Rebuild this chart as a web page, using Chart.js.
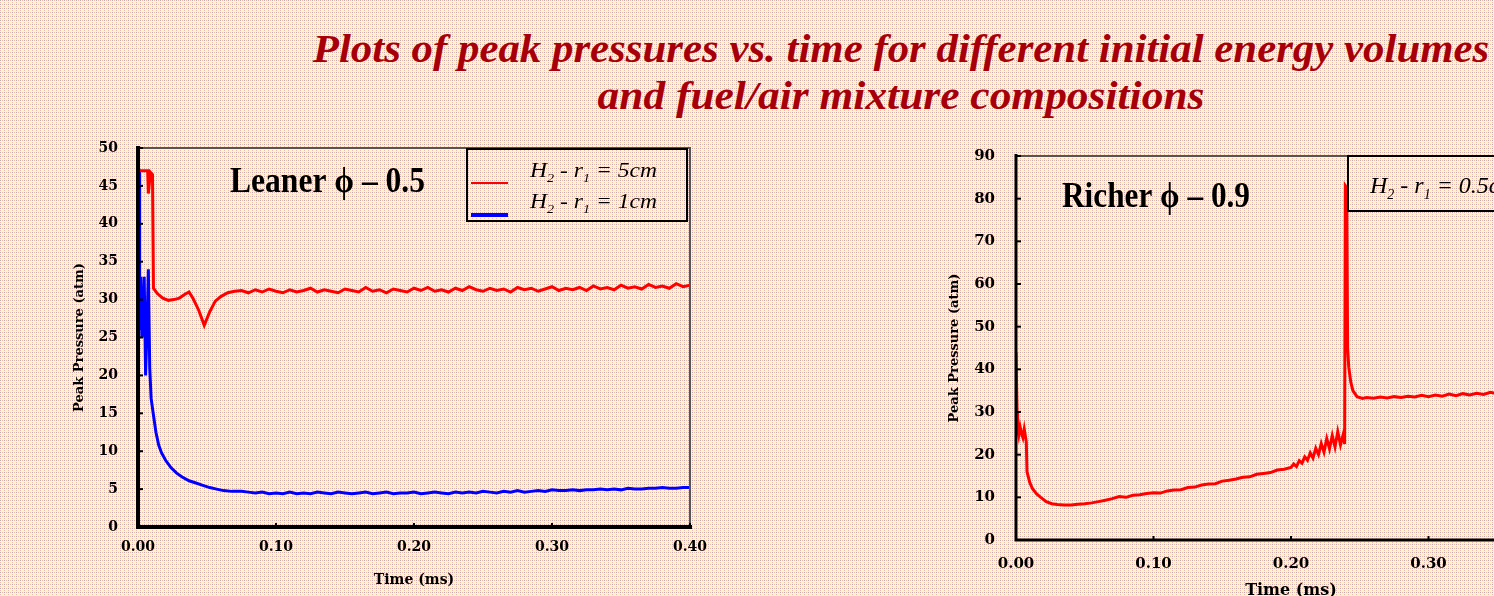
<!DOCTYPE html>
<html>
<head>
<meta charset="utf-8">
<script src="https://cdn.jsdelivr.net/npm/chart.js@4.4.1/dist/chart.umd.min.js"></script>
<style>
  html, body { margin: 0; padding: 0; }
  body { width: 1494px; height: 596px; overflow: hidden; position: relative; background: #f9ebbd; }
  .head { position: absolute; left: 901px; white-space: nowrap; font: italic bold 41px "Liberation Serif", serif;
          color: #a8000a; line-height: 41px; transform-origin: center top; }
  canvas { position: absolute; }
  #lean { left: 0; top: 130px; }
  #rich { left: 900px; top: 140px; }
</style>
</head>
<body>
<div class="head" id="head1" style="top:28px">Plots of peak pressures vs. time for different initial energy volumes</div>
<div class="head" id="head2" style="top:75px">and fuel/air mixture compositions</div>
<canvas id="lean" width="740" height="466"></canvas>
<canvas id="rich" width="760" height="466"></canvas>
<script>
// ---- data: time in ms, peak pressure in atm ----
const timeTicks = [0, 0.1, 0.2, 0.3, 0.4];
const leanTicks = [0, 5, 10, 15, 20, 25, 30, 35, 40, 45, 50];
const richTicks = [0, 10, 20, 30, 40, 50, 60, 70, 80, 90];

// lean mixture, r = 5cm (start-up transient)
const leanRedHeadT = [0, 0.007, 0.0075, 0.009, 0.0105, 0.0112, 0.014, 0.018, 0.022, 0.026, 0.030,
  0.034, 0.037, 0.040, 0.044, 0.048, 0.052, 0.056, 0.060, 0.065, 0.070];
const leanRedHeadP = [47, 47, 44, 46.8, 46.5, 31.5, 30.8, 30.2, 29.9, 30.0, 30.2,
  30.7, 31.0, 30.1, 28.6, 26.6, 28.4, 29.8, 30.4, 30.9, 31.1];

// lean mixture, r = 1cm (start-up transient)
const leanBlueHeadT = [0, 0.0008, 0.0012, 0.002, 0.0028, 0.0035, 0.0045, 0.0055, 0.0065, 0.0075,
  0.0085, 0.0095, 0.011, 0.013, 0.015, 0.017, 0.020, 0.024, 0.028, 0.032,
  0.037, 0.042, 0.047, 0.052, 0.057, 0.062, 0.068];
const leanBlueHeadP = [47, 47, 26, 33, 25, 26, 33, 20, 26, 34,
  21, 17, 15, 12.5, 10.8, 9.8, 8.8, 7.8, 7.1, 6.6,
  6.1, 5.8, 5.5, 5.2, 5.0, 4.8, 4.7];

// lean mixture, settled part shared by both radii
const leanTailT = [0.075, 0.080, 0.085, 0.090, 0.095, 0.100, 0.105, 0.110, 0.115, 0.120,
  0.125, 0.130, 0.135, 0.140, 0.145, 0.150, 0.155, 0.160, 0.165, 0.170,
  0.175, 0.180, 0.185, 0.190, 0.195, 0.200, 0.205, 0.210, 0.215, 0.220,
  0.225, 0.230, 0.235, 0.240, 0.245, 0.250, 0.255, 0.260, 0.265, 0.270,
  0.275, 0.280, 0.285, 0.290, 0.295, 0.300, 0.305, 0.310, 0.315, 0.320,
  0.325, 0.330, 0.335, 0.340, 0.345, 0.350, 0.355, 0.360, 0.365, 0.370,
  0.375, 0.380, 0.385, 0.390, 0.395, 0.400];
const leanRedTailP = [31.2, 30.9, 31.3, 31.0, 31.4, 31.1, 30.9, 31.3, 31.0, 31.2,
  31.5, 31.0, 31.3, 31.1, 30.9, 31.4, 31.2, 31.0, 31.6, 31.1,
  31.3, 30.9, 31.4, 31.2, 31.0, 31.5, 31.2, 31.6, 31.1, 31.3,
  31.0, 31.5, 31.2, 31.7, 31.3, 31.1, 31.5, 31.2, 31.4, 31.0,
  31.6, 31.3, 31.5, 31.1, 31.4, 31.7, 31.2, 31.5, 31.3, 31.6,
  31.2, 31.8, 31.4, 31.6, 31.3, 31.9, 31.5, 31.7, 31.4, 32.0,
  31.6, 31.8, 31.5, 32.1, 31.7, 31.9];
const leanBlueTailP = [4.7, 4.6, 4.5, 4.6, 4.4, 4.5, 4.4, 4.6, 4.4, 4.5,
  4.4, 4.6, 4.5, 4.4, 4.6, 4.5, 4.4, 4.5, 4.6, 4.4,
  4.5, 4.6, 4.4, 4.5, 4.5, 4.6, 4.4, 4.5, 4.6, 4.5,
  4.4, 4.6, 4.5, 4.6, 4.5, 4.7, 4.6, 4.5, 4.7, 4.6,
  4.8, 4.6, 4.7, 4.8, 4.7, 4.9, 4.8, 4.8, 4.9, 4.8,
  4.9, 4.9, 5.0, 4.9, 5.0, 4.9, 5.1, 5.0, 5.0, 5.1,
  5.1, 5.2, 5.1, 5.1, 5.2, 5.2];

// rich mixture, r = 0.5cm
const richT = [0, 0.0008, 0.0012, 0.002, 0.003, 0.004, 0.005, 0.006, 0.0075, 0.008,
  0.010, 0.012, 0.015, 0.018, 0.022, 0.026, 0.030, 0.035, 0.040, 0.045,
  0.050, 0.055, 0.060, 0.065, 0.070,
  0.075, 0.080, 0.085, 0.090, 0.095, 0.100, 0.105, 0.110, 0.115, 0.120,
  0.125, 0.130, 0.135, 0.140, 0.145, 0.150, 0.155, 0.160, 0.165, 0.170,
  0.175, 0.180, 0.185, 0.190, 0.195, 0.200,
  0.202, 0.204, 0.206, 0.208, 0.210, 0.212, 0.214, 0.216, 0.218, 0.220,
  0.222, 0.224, 0.226, 0.228, 0.230, 0.232, 0.234, 0.236, 0.238,
  0.2390, 0.2395, 0.2405, 0.2412, 0.2420, 0.2435, 0.2450, 0.2480, 0.2520,
  0.255, 0.260, 0.265, 0.270, 0.275, 0.280, 0.285, 0.290, 0.295, 0.300,
  0.305, 0.310, 0.315, 0.320, 0.325, 0.330, 0.335, 0.340, 0.345, 0.350,
  0.355, 0.360, 0.365, 0.370, 0.375, 0.380, 0.385, 0.390, 0.395, 0.400];
const richP = [44, 30, 26, 24.5, 26.5, 25, 24, 26, 23, 16,
  13.5, 12, 10.8, 10.0, 9.0, 8.5, 8.3, 8.2, 8.2, 8.4,
  8.5, 8.7, 9.0, 9.3, 9.7,
  10.2, 10.0, 10.5, 10.6, 10.9, 11.1, 11.0, 11.5, 11.7, 11.8,
  12.3, 12.4, 12.9, 13.1, 13.2, 13.8, 14.0, 14.3, 14.7, 14.8,
  15.4, 15.6, 15.8, 16.4, 16.6, 17.0,
  17.8, 17.2, 18.6, 18.0, 19.5, 18.7, 20.4, 19.2, 21.5, 20.0,
  22.6, 20.6, 23.8, 21.4, 24.5, 21.8, 25.4, 22.3, 24.8,
  22.5, 83, 82.5, 45, 40.5, 37, 35, 33.6, 33.2,
  33.4, 33.2, 33.5, 33.3, 33.6, 33.4, 33.7, 33.5, 33.9, 33.6,
  34.0, 33.7, 34.2, 33.8, 34.3, 34.0, 34.4, 34.1, 34.6, 34.3,
  34.7, 34.4, 34.8, 34.5, 34.9, 34.6, 35.0, 34.7, 35.1, 34.8];

const pts = (t, p) => t.map((x, i) => ({ x, y: p[i] }));

// ---- page background: dithered beige ----
const tile = document.createElement('canvas');
tile.width = tile.height = 4;
const tc = tile.getContext('2d');
tc.fillStyle = '#fff8c0'; tc.fillRect(0, 0, 4, 4);
tc.fillStyle = '#b0b0a8'; tc.fillRect(0, 0, 1, 1);
tc.fillStyle = '#f4b4b4'; tc.fillRect(2, 0, 1, 1); tc.fillRect(0, 2, 1, 1);
document.body.style.backgroundImage = 'url(' + tile.toDataURL() + ')';

// stretch the two heading lines to their set widths
function fitHead(id, w) {
  const el = document.getElementById(id);
  el.style.transform = 'translateX(-50%) scaleX(' + (w / el.offsetWidth) + ')';
}
fitHead('head1', 1177);
fitHead('head2', 607);

// text like "H_2 - r_1 = 5cm": "_x" is a subscript
function subText(ctx, s, x, base, size, fitW) {
  const parts = [];
  for (let i = 0; i < s.length; i++) {
    if (s[i] === '_') { parts.push([s[i + 1], 1]); i++; }
    else if (parts.length && parts[parts.length - 1][1] === 0) parts[parts.length - 1][0] += s[i];
    else parts.push([s[i], 0]);
  }
  const font = sub => 'italic ' + (sub ? Math.round(size * 0.6) : size) + 'px "Liberation Serif", serif';
  let w = 0;
  parts.forEach(([t, sub]) => { ctx.font = font(sub); w += ctx.measureText(t).width; });
  ctx.save();
  ctx.translate(x, base);
  if (fitW) ctx.scale(fitW / w, 1);
  let cx = 0;
  parts.forEach(([t, sub]) => {
    ctx.font = font(sub);
    ctx.fillText(t, cx, sub ? size * 0.25 : 0);
    cx += ctx.measureText(t).width;
  });
  ctx.restore();
}

// frame, inner tick marks, plot heading and legend box
const notes = {
  id: 'notes',
  afterDatasetsDraw(chart, args, o) {
    const { ctx, chartArea: a, scales: { x, y } } = chart;
    ctx.save();
    ctx.strokeStyle = '#555';
    ctx.lineWidth = 2;
    ctx.beginPath();
    ctx.moveTo(a.left, a.top); ctx.lineTo(a.right, a.top); ctx.lineTo(a.right, a.bottom);
    ctx.stroke();
    ctx.strokeStyle = '#000';
    ctx.lineWidth = o.axisWidth;
    ctx.beginPath();
    ctx.moveTo(a.left, a.top - 2); ctx.lineTo(a.left, a.bottom); ctx.lineTo(a.right + 2, a.bottom);
    ctx.stroke();
    ctx.lineWidth = 2;
    y.ticks.forEach(t => {
      const py = y.getPixelForValue(t.value);
      ctx.beginPath(); ctx.moveTo(a.left, py); ctx.lineTo(a.left + 5, py); ctx.stroke();
    });
    x.ticks.forEach(t => {
      const px = x.getPixelForValue(t.value);
      ctx.beginPath(); ctx.moveTo(px, a.bottom); ctx.lineTo(px, a.bottom - 4); ctx.stroke();
    });

    // heading inside the plot
    ctx.fillStyle = '#000';
    ctx.font = 'bold 32px "Liberation Serif", serif';
    const hw = ctx.measureText(o.heading).width;
    ctx.save();
    ctx.translate(o.headX, o.headBase);
    ctx.scale(o.headW / hw, 1.15);
    ctx.fillText(o.heading, 0, 0);
    ctx.restore();

    // legend
    const L = o.legend;
    ctx.strokeStyle = '#000';
    ctx.lineWidth = 2;
    ctx.strokeRect(L.box[0], L.box[1], L.box[2] - L.box[0], L.box[3] - L.box[1]);
    L.items.forEach(it => {
      ctx.strokeStyle = it.color;
      ctx.lineWidth = it.width;
      ctx.beginPath(); ctx.moveTo(it.sample[0], it.sample[2]); ctx.lineTo(it.sample[1], it.sample[2]); ctx.stroke();
      ctx.fillStyle = '#000';
      subText(ctx, it.text, it.x, it.base, L.size, L.fitW);
    });
    ctx.restore();
  }
};

function makeChart(id, c) {
  return new Chart(document.getElementById(id), {
    type: 'line',
    data: { datasets: c.datasets },
    options: {
      responsive: false,
      animation: false,
      devicePixelRatio: 1,
      events: [],
      layout: { padding: c.padding },
      elements: { point: { radius: 0 }, line: { tension: 0 } },
      scales: {
        x: {
          type: 'linear', min: 0, max: 0.4,
          grid: { display: false, drawTicks: false },
          border: { display: false },
          afterBuildTicks: s => { s.ticks = timeTicks.map(v => ({ value: v })); },
          afterFit: s => { s.height = c.xHeight; },
          ticks: {
            autoSkip: false, maxRotation: 0, padding: c.xPad, color: '#000',
            font: { family: '"DejaVu Serif", serif', weight: 'bold', size: c.tickSize },
            callback: v => v.toFixed(2)
          },
          title: {
            display: true, text: 'Time (ms)', color: '#000',
            font: { family: '"DejaVu Serif", serif', weight: 'bold', size: c.xTitleSize },
            padding: { top: 0, bottom: c.xTitlePad }
          }
        },
        y: {
          min: 0, max: c.yMax,
          grid: { display: false, drawTicks: false },
          border: { display: false },
          afterBuildTicks: s => { s.ticks = c.yTicks.map(v => ({ value: v })); },
          // keep the label gap from pushing the plot area down
          afterFit: s => { s.width = c.yWidth; s.paddingTop = 8; s.paddingBottom = 8; },
          ticks: {
            padding: c.yPad, color: '#000',
            font: { family: '"DejaVu Serif", serif', weight: 'bold', size: c.tickSize }
          },
          title: {
            display: true, text: 'Peak Pressure (atm)', color: '#000',
            font: { family: '"DejaVu Serif", serif', weight: 'bold', size: 13 },
            padding: { top: c.yTitlePad, bottom: 0 }
          }
        }
      },
      plugins: { legend: { display: false }, tooltip: { enabled: false }, notes: c.notes }
    },
    plugins: [notes]
  });
}

makeChart('lean', {
  datasets: [
    { label: 'H2 - r1 = 5cm', data: pts(leanRedHeadT.concat(leanTailT), leanRedHeadP.concat(leanRedTailP)),
      borderColor: '#ff0000', borderWidth: 3 },
    { label: 'H2 - r1 = 1cm', data: pts(leanBlueHeadT.concat(leanTailT), leanBlueHeadP.concat(leanBlueTailP)),
      borderColor: '#0000ff', borderWidth: 3 }
  ],
  padding: { left: 70, right: 50, top: 18, bottom: 0 },
  yWidth: 68, xHeight: 69, yMax: 50, yTicks: leanTicks,
  tickSize: 14, xPad: 12, yPad: 20, xTitleSize: 14, xTitlePad: 7, yTitlePad: 2,
  notes: {
    axisWidth: 4,
    heading: 'Leaner \u03D5 \u2013 0.5', headX: 230, headBase: 62, headW: 195,
    legend: {
      box: [467, 19, 687, 91], size: 20, fitW: 127,
      items: [
        { color: '#ff0000', width: 2, sample: [471, 508, 53], text: 'H_2 - r_1 = 5cm', x: 530, base: 47 },
        { color: '#0000ff', width: 4, sample: [471, 508, 85], text: 'H_2 - r_1 = 1cm', x: 530, base: 78 }
      ]
    }
  }
});

makeChart('rich', {
  datasets: [
    { label: 'H2 - r1 = 0.5cm', data: pts(richT, richP), borderColor: '#ff0000', borderWidth: 3 }
  ],
  padding: { left: 44, right: 94, top: 16, bottom: 0 },
  yWidth: 72, xHeight: 66, yMax: 90, yTicks: richTicks,
  tickSize: 15, xPad: 15, yPad: 21, xTitleSize: 16, xTitlePad: 6, yTitlePad: 3,
  notes: {
    axisWidth: 3,
    heading: 'Richer \u03D5 \u2013 0.9', headX: 162, headBase: 67, headW: 188,
    legend: {
      box: [448, 16, 720, 71], size: 24, fitW: 0,
      items: [
        { color: '#ff0000', width: 2, sample: [640, 700, 50], text: 'H_2 - r_1 = 0.5cm', x: 470, base: 53 }
      ]
    }
  }
});
</script>
</body>
</html>
